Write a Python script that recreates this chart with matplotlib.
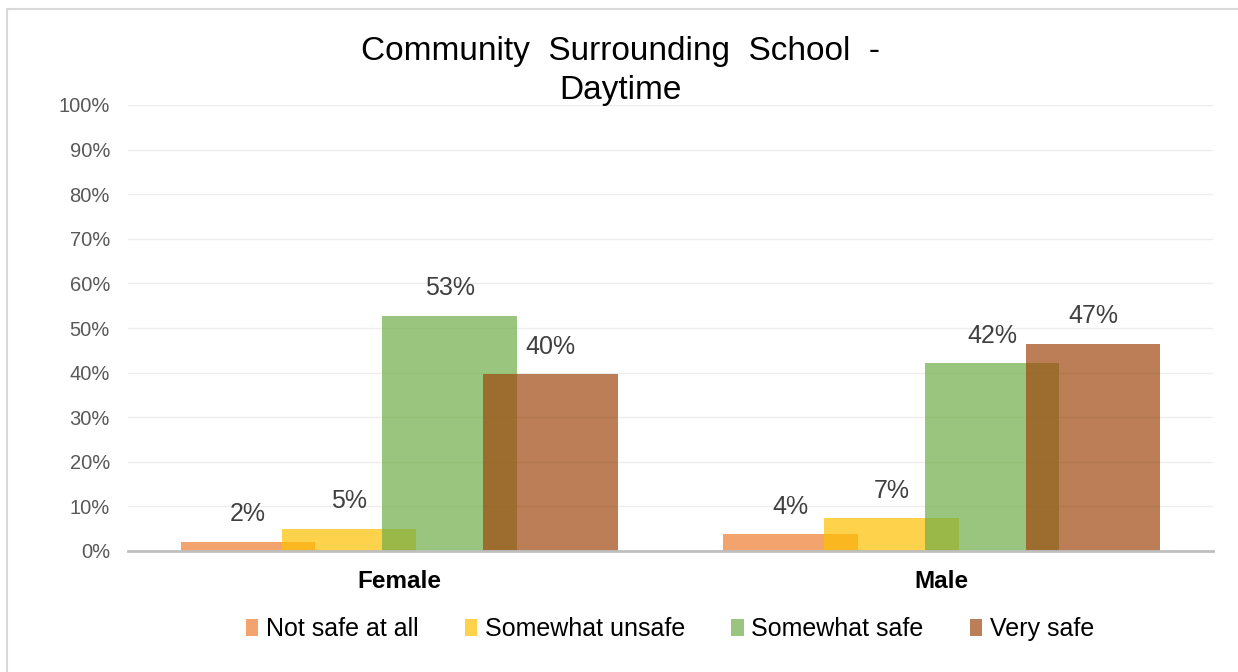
import matplotlib
matplotlib.use("Agg")
import matplotlib.pyplot as plt
import matplotlib.patches as mpatches
import numpy as np

plt.rcParams["font.family"] = ["Liberation Sans", "DejaVu Sans"]

# Data
groups = ["Female", "Male"]
series = ["Not safe at all", "Somewhat unsafe", "Somewhat safe", "Very safe"]
not_safe = [2.1, 3.7]
somewhat_unsafe = [5.0, 7.4]
somewhat_safe = [52.8, 42.2]
very_safe = [39.7, 46.5]
labels_not_safe = ["2%", "4%"]
labels_somewhat_unsafe = ["5%", "7%"]
labels_somewhat_safe = ["53%", "42%"]
labels_very_safe = ["40%", "47%"]
yticks = list(range(0, 101, 10))

values = [not_safe, somewhat_unsafe, somewhat_safe, very_safe]
value_labels = [labels_not_safe, labels_somewhat_unsafe, labels_somewhat_safe, labels_very_safe]
colors = ["#ED7D31", "#FFC000", "#70AD47", "#9E480E"]

fig = plt.figure(figsize=(12.38, 6.72), dpi=100)
fig.patch.set_facecolor("white")

# outer chart border
fig.patches.append(mpatches.Rectangle((7 / 1238, -0.05), 1.2, 1 - 9 / 672 + 0.05,
                                      transform=fig.transFigure, fill=False,
                                      edgecolor="#D9D9D9", linewidth=1.5))

ax = fig.add_axes([128 / 1238, 1 - 551 / 672, (1213 - 128) / 1238, (551 - 105) / 672])

x = np.arange(len(groups))
step = 0.186
width = 0.248
offsets = [-1.5, -0.5, 0.5, 1.5]

for vals, labs, col, off, name in zip(values, value_labels, colors, offsets, series):
    bars = ax.bar(x + off * step, vals, width=width, color=col, alpha=0.7,
                  linewidth=0, label=name, zorder=3)
    ax.bar_label(bars, labels=labs, padding=11, fontsize=18, color="#404040")

ax.set_xlim(-0.5, 1.5)
ax.set_ylim(0, 100)
ax.set_yticks(yticks)
ax.set_yticklabels([f"{t}%" for t in yticks], fontsize=14.5, color="#595959")
ax.set_xticks(x)
ax.set_xticklabels(groups, fontsize=17.5, fontweight="bold", color="black")
ax.tick_params(axis="y", length=0, pad=13)
ax.tick_params(axis="x", length=0, pad=14)

ax.grid(axis="y", color="#EDEDED", linewidth=1, zorder=0)
for s in ["top", "right", "left"]:
    ax.spines[s].set_visible(False)
ax.spines["bottom"].set_color("#BFBFBF")
ax.spines["bottom"].set_linewidth(2)
ax.spines["bottom"].set_zorder(4)

fig.text(0.5015, 1 - 60 / 672, "Community  Surrounding  School  -",
         ha="center", va="baseline", fontsize=24, color="black")
fig.text(0.5015, 1 - 99 / 672, "Daytime",
         ha="center", va="baseline", fontsize=24, color="black")

handles = [mpatches.Patch(facecolor=c, alpha=0.7, edgecolor="none", label=n)
           for c, n in zip(colors, series)]
fig.legend(handles=handles, loc="center", bbox_to_anchor=(0.541, 1 - 629 / 672),
           ncol=4, frameon=False, fontsize=18, handlelength=0.5, handleheight=0.65,
           handletextpad=0.3, columnspacing=1.85)

fig.savefig("out.png", dpi=100)
